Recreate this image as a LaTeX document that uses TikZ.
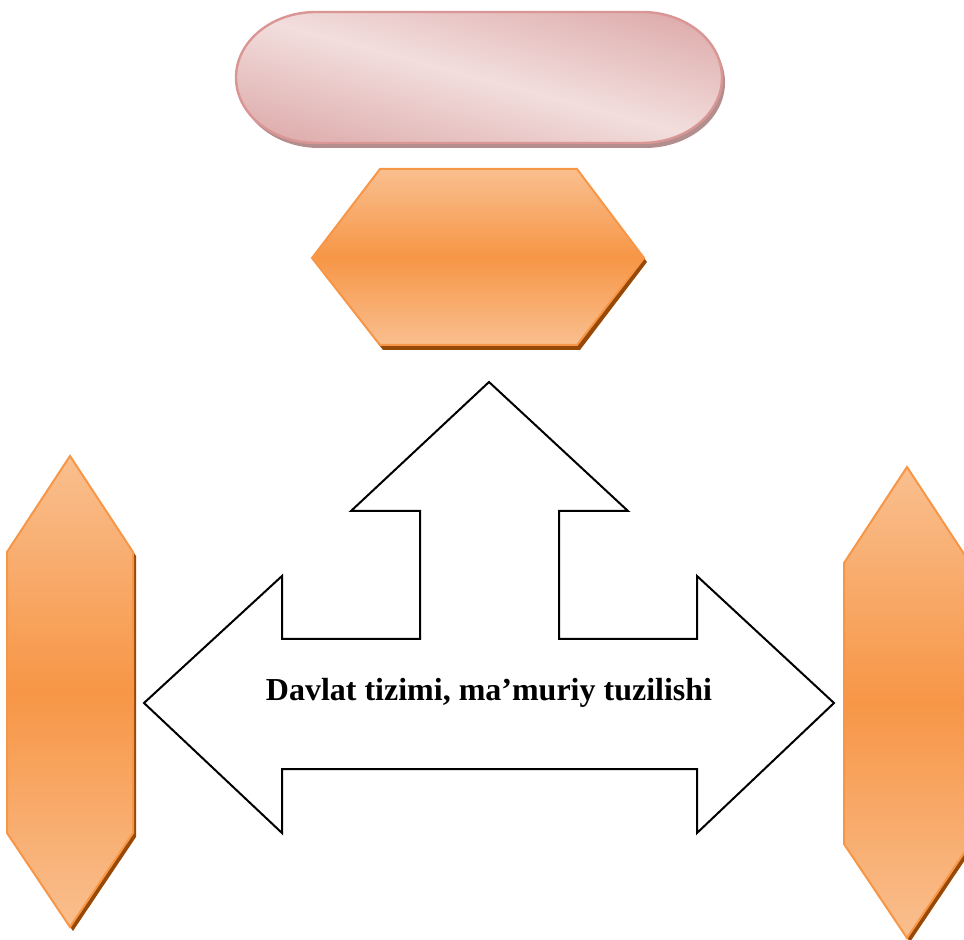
\documentclass[tikz,border=0pt]{standalone}
\usepackage{fontspec}
\setmainfont{Liberation Serif}
\definecolor{orline}{HTML}{F79646}
\definecolor{orlight}{HTML}{F9BF8F}
\definecolor{ormid}{HTML}{F79646}
\definecolor{orshadow}{HTML}{984807}
\definecolor{pkline}{HTML}{D99694}
\definecolor{pklight}{HTML}{F2DEDD}
\definecolor{pkdark}{HTML}{D9A0A0}
\definecolor{pkshadow}{HTML}{B28E8E}
\newcommand{\pillpath}{(316,12) -- (642,12) arc[start angle=-90,end angle=90,x radius=80,y radius=65.5]
  -- (316,143) arc[start angle=90,end angle=270,x radius=80,y radius=65.5] -- cycle}
\begin{document}
\begin{tikzpicture}[x=0.5pt,y=-0.5pt,line join=miter]
  \tikzstyle{hexshadow}=[fill=orshadow]
  \tikzstyle{hex}=[draw=orline,line width=1pt,top color=orlight,bottom color=orlight,middle color=ormid]
  \tikzstyle{bigarrow}=[draw=black,line width=1pt,fill=white]

  \useasboundingbox (0,0) rectangle (964,940);

  % top pill
  \fill[pkshadow,shift={(3,5)}] \pillpath;
  \begin{scope}
    \clip \pillpath;
    \begin{scope}[transform canvas={rotate around={-15:(479,78)}}]
      \shade[top color=pkdark,bottom color=pkdark,middle color=pklight] (129,-62) rectangle (829,218);
    \end{scope}
  \end{scope}
  \draw[pkline,line width=1.2pt] \pillpath;

  % top hexagon
  \fill[hexshadow] (315,262) -- (383,173) -- (580,173) -- (647,262) -- (580,350) -- (383,350) -- cycle;
  \path[hex] (312,258) -- (380,169) -- (577,169) -- (644,258) -- (577,345) -- (380,345) -- cycle;

  % side hexagons
  \foreach \cx/\cy in {70/692, 907/703} {
    \fill[hexshadow,shift={(\cx+3,\cy+4)}]
      (0,-236) -- (63,-140) -- (63,141) -- (0,235) -- (-63,141) -- (-63,-140) -- cycle;
    \path[hex,shift={(\cx,\cy)}]
      (0,-236) -- (63,-140) -- (63,141) -- (0,235) -- (-63,141) -- (-63,-140) -- cycle;
  }

  % three-way arrow
  \path[bigarrow] (144,703) -- (282,576) -- (282,639) -- (420,639) -- (420,511) -- (351,511)
    -- (489,382) -- (628,511) -- (559,511) -- (559,639) -- (697,639) -- (697,576)
    -- (834,703) -- (697,833) -- (697,769) -- (282,769) -- (282,833) -- cycle;

  \node[anchor=base,font=\bfseries\fontsize{16}{19}\selectfont] (title) at (489,700)
    {Davlat tizimi, ma’muriy tuzilishi};
\end{tikzpicture}
\end{document}
